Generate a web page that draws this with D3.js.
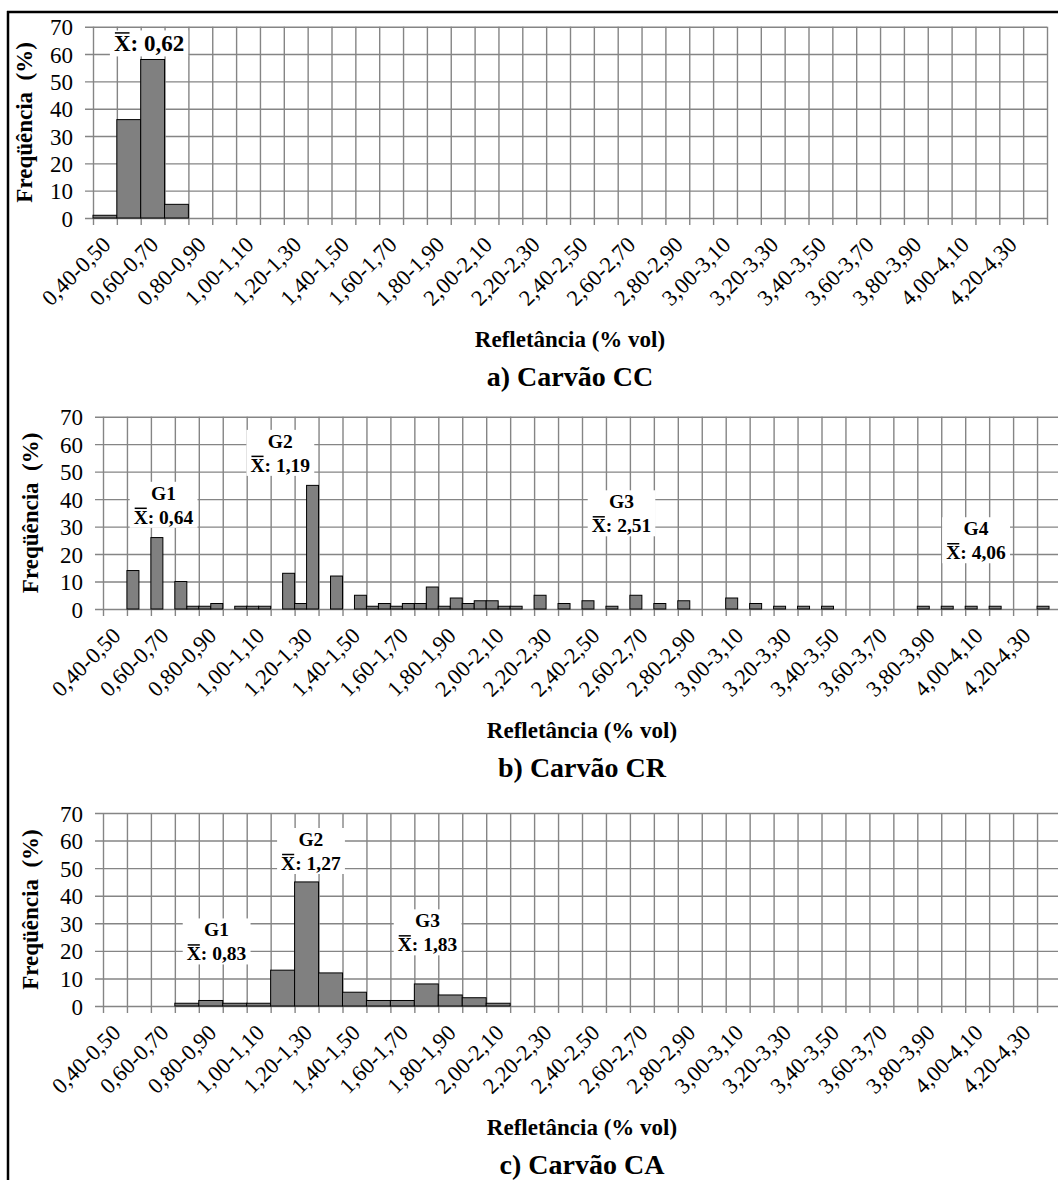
<!DOCTYPE html>
<html>
<head>
<meta charset="utf-8">
<script src="https://d3js.org/d3.v7.min.js"></script>
<style>
  body { margin: 0; background: #fff; }
  svg, svg text { font-family: "Liberation Serif", "Times New Roman", "DejaVu Serif", serif; fill: #000; }
</style>
</head>
<body>
<svg id="chart" width="1058" height="1180"></svg>
<script>
// reflectance classes shown on the axis (every other / every fourth class is labelled)
const tickLabels = ["0,40-0,50", "0,60-0,70", "0,80-0,90", "1,00-1,10", "1,20-1,30",
                    "1,40-1,50", "1,60-1,70", "1,80-1,90", "2,00-2,10", "2,20-2,30",
                    "2,40-2,50", "2,60-2,70", "2,80-2,90", "3,00-3,10", "3,20-3,30",
                    "3,40-3,50", "3,60-3,70", "3,80-3,90", "4,00-4,10", "4,20-4,30"];
const yTicks = [0, 10, 20, 30, 40, 50, 60, 70];

// frequency (%) per class
const freqCC = [1, 36, 58, 5, 0, 0, 0, 0, 0, 0,
                0, 0, 0, 0, 0, 0, 0, 0, 0, 0,
                0, 0, 0, 0, 0, 0, 0, 0, 0, 0,
                0, 0, 0, 0, 0, 0, 0, 0, 0, 0];
const freqCR = [0, 0, 14, 0, 26, 0, 10, 1, 1, 2,
                0, 1, 1, 1, 0, 13, 2, 45, 0, 12,
                0, 5, 1, 2, 1, 2, 2, 8, 1, 4,
                2, 3, 3, 1, 1, 0, 5, 0, 2, 0,
                3, 0, 1, 0, 5, 0, 2, 0, 3, 0,
                0, 0, 4, 0, 2, 0, 1, 0, 1, 0,
                1, 0, 0, 0, 0, 0, 0, 0, 1, 0,
                1, 0, 1, 0, 1, 0, 0, 0, 1, 0];
const freqCA = [0, 0, 0, 1, 2, 1, 1, 13, 45, 12,
                5, 2, 2, 8, 4, 3, 1, 0, 0, 0,
                0, 0, 0, 0, 0, 0, 0, 0, 0, 0,
                0, 0, 0, 0, 0, 0, 0, 0, 0, 0];

const groupsCC = [""];
const meansCC = ["0,62"];
const groupsCR = ["G1", "G2", "G3", "G4"];
const meansCR = ["0,64", "1,19", "2,51", "4,06"];
const groupsCA = ["G1", "G2", "G3"];
const meansCA = ["0,83", "1,27", "1,83"];
const captions = ["a) Carvão CC", "b) Carvão CR", "c) Carvão CA"];

const FONT = '"Liberation Serif", "Times New Roman", "DejaVu Serif", serif';
const gridColor = "#858585";
const svg = d3.select("#chart");

// frame
svg.append("line").attr("x1", 7).attr("x2", 1058).attr("y1", 12).attr("y2", 12)
  .attr("stroke", "#000").attr("stroke-width", 2.5);
svg.append("line").attr("x1", 8).attr("x2", 8).attr("y1", 11).attr("y2", 1180)
  .attr("stroke", "#000").attr("stroke-width", 2.5);

// layout per panel; anno = [class position, value of the X line]
const panels = [
  { data: freqCC, groups: groupsCC, means: meansCC, caption: captions[0],
    left: 93, right: 1047, top: 26.7, bottom: 218, perLabel: 2, gridEvery: 1,
    titleX: 24, annoSize: 23, anno: [[2.35, 63.9]] },
  { data: freqCR, groups: groupsCR, means: meansCR, caption: captions[1],
    left: 103, right: 1061, top: 416.7, bottom: 609, perLabel: 4, gridEvery: 2,
    titleX: 30, annoSize: 19.5, anno: [[5.05, 33.5], [14.8, 52.4], [43.3, 30.4], [72.9, 20.6]] },
  { data: freqCA, groups: groupsCA, means: meansCA, caption: captions[2],
    left: 103, right: 1061, top: 813, bottom: 1006, perLabel: 2, gridEvery: 1,
    titleX: 30, annoSize: 19.5, anno: [[4.74, 19], [8.68, 51.8], [13.55, 22.3]] }
];

panels.forEach(p => {
  const n = p.data.length;
  const w = p.right - p.left, h = p.bottom - p.top;
  const x = d3.scaleBand().domain(d3.range(n)).range([p.left, p.right]).padding(0);
  const xu = d3.scaleLinear().domain([0, n]).range([p.left, p.right]);
  const y = d3.scaleLinear().domain([0, 70]).range([p.bottom, p.top]);
  const g = svg.append("g").style("font-family", FONT);

  // horizontal grid + y ticks
  g.append("g").attr("transform", `translate(${p.left - 8},0)`)
    .call(d3.axisLeft(y).tickValues(yTicks).tickSize(-(w + 8)).tickPadding(12))
    .call(a => a.select(".domain").remove())
    .call(a => a.selectAll("line").attr("stroke", gridColor).attr("stroke-width", 1.4))
    .call(a => a.selectAll("text").style("font-family", FONT).attr("font-size", 23)
      .attr("fill", "#000").attr("dy", "0.35em"))
    .attr("font-family", null).attr("font-size", null);

  // vertical grid + x ticks
  g.append("g").attr("transform", `translate(0,${p.bottom + 7})`)
    .call(d3.axisBottom(xu).tickValues(d3.range(0, n + 1, p.gridEvery)).tickSize(-(h + 7)).tickFormat(""))
    .call(a => a.select(".domain").remove())
    .call(a => a.selectAll("line").attr("stroke", gridColor).attr("stroke-width", 1.4));

  // bars
  g.selectAll("rect.bar").data(p.data.map((v, i) => ({ v, i })).filter(d => d.v > 0))
    .join("rect").attr("class", "bar")
    .attr("x", d => x(d.i)).attr("width", x.bandwidth())
    .attr("y", d => y(d.v)).attr("height", d => y(0) - y(d.v))
    .attr("fill", "#808080").attr("stroke", "#000").attr("stroke-width", 1);

  // x labels
  g.selectAll("text.xl").data(tickLabels).join("text").attr("class", "xl")
    .attr("text-anchor", "end").attr("font-size", 22.5).style("font-family", FONT)
    .attr("transform", (d, i) => {
      const cx = x(i * p.perLabel) + p.gridEvery * x.bandwidth() / 2;
      return `translate(${cx + 7},${p.bottom + 28}) rotate(-45)`;
    })
    .text(d => d);

  // axis titles
  g.append("text").attr("text-anchor", "middle").attr("font-size", 23).attr("font-weight", "bold")
    .style("font-family", FONT)
    .attr("transform", `translate(${p.titleX},${(p.top + p.bottom) / 2}) rotate(-90)`)
    .attr("dy", "0.35em").style("white-space", "pre").text("Freqüência  (%)");
  g.append("text").attr("text-anchor", "middle").attr("font-size", 23).attr("font-weight", "bold")
    .style("font-family", FONT)
    .attr("x", (p.left + p.right) / 2).attr("y", p.bottom + 121).attr("dy", "0.35em")
    .text("Refletância (% vol)");
  g.append("text").attr("text-anchor", "middle").attr("font-size", 28).attr("font-weight", "bold")
    .style("font-family", FONT)
    .attr("x", (p.left + p.right) / 2).attr("y", p.bottom + 158).attr("dy", "0.35em")
    .text(p.caption);

  // group annotations
  p.anno.forEach((a, k) => {
    const ag = g.append("g");
    const box = ag.append("rect").attr("fill", "#fff");
    const cx = xu(a[0]), cy = y(a[1]);
    const lines = p.groups[k] ? [p.groups[k], "X: " + p.means[k]] : ["X: " + p.means[k]];
    const texts = lines.map((t, li) => ag.append("text")
      .attr("x", cx).attr("y", cy - (lines.length - 1 - li) * 24).attr("dy", "0.35em")
      .attr("text-anchor", "middle").attr("font-size", p.annoSize).attr("font-weight", "bold")
      .style("font-family", FONT)
      .text(t));
    // overline on the X
    const xt = texts[texts.length - 1].node();
    const e = xt.getExtentOfChar(0);
    ag.append("line").attr("x1", e.x + 1).attr("x2", e.x + e.width - 1)
      .attr("y1", e.y + 1.5).attr("y2", e.y + 1.5).attr("stroke", "#000").attr("stroke-width", 1.5);
    let x0 = Infinity, x1 = -Infinity, y0 = Infinity, y1 = -Infinity;
    texts.forEach(t => {
      const b = t.node().getBBox();
      x0 = Math.min(x0, b.x); x1 = Math.max(x1, b.x + b.width);
      y0 = Math.min(y0, b.y); y1 = Math.max(y1, b.y + b.height);
    });
    box.attr("x", x0 - 4).attr("y", y0 - 1).attr("width", x1 - x0 + 8).attr("height", y1 - y0 + 1);
  });
});
</script>
</body>
</html>
